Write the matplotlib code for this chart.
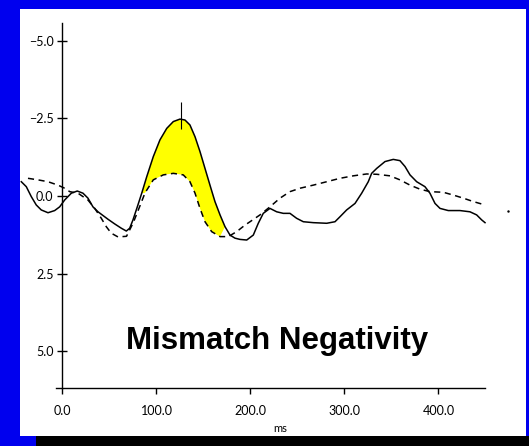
import matplotlib
matplotlib.use('Agg')
import matplotlib.pyplot as plt
from matplotlib.patches import Rectangle
import numpy as np

# standard (solid) waveform, ms / microvolts (negative up)
std_ms = [-43.8, -38.5, -33.2, -27.9, -22.6, -15.4, -8.3, -3.0, 2.3, 9.4, 15.7, 21.8, 27.1,
          32.4, 37.8, 48.4, 55.5, 62.6, 67.9, 71.5, 75.0, 79.6, 84.3, 89.6, 96.6, 103.7,
          110.9, 117.9, 125.0, 130.3, 135.6, 141.0, 146.3, 151.6, 156.9, 162.2, 167.6,
          172.9, 178.2, 183.5, 188.8, 196.0, 203.0, 208.3, 213.6, 220.7, 227.9, 234.9,
          242.0, 249.1, 256.2, 266.8, 281.1, 289.9, 295.2, 302.3, 311.2, 318.3, 325.3,
          328.9, 334.3, 343.1, 351.9, 359.0, 364.4, 369.7, 376.8, 385.6, 390.9, 396.3,
          401.6, 410.4, 422.9, 433.5, 440.6, 445.9, 449.5]
std_uv = [-0.46, -0.30, 0.02, 0.29, 0.45, 0.54, 0.47, 0.35, 0.13, -0.09, -0.16, -0.09, 0.07,
          0.35, 0.51, 0.75, 0.90, 1.04, 1.13, 1.04, 0.77, 0.35, -0.09, -0.62, -1.27, -1.81,
          -2.18, -2.40, -2.48, -2.45, -2.29, -1.91, -1.43, -0.89, -0.35, 0.18, 0.61,
          0.99, 1.26, 1.36, 1.40, 1.42, 1.26, 0.88, 0.56, 0.40, 0.51, 0.56,
          0.56, 0.72, 0.83, 0.86, 0.88, 0.83, 0.67, 0.45, 0.24, -0.09, -0.46,
          -0.73, -0.89, -1.11, -1.18, -1.14, -0.95, -0.68, -0.46, -0.30, -0.09, 0.24,
          0.40, 0.47, 0.47, 0.51, 0.61, 0.77, 0.86]

# deviant (dashed) waveform
dev_ms = [-36.7, -26.1, -15.4, -4.8, 2.3, 7.7, 16.5, 27.1, 34.3, 41.3, 46.6, 51.9, 59.0,
          68.1, 75.3, 82.4, 87.8, 96.6, 107.2, 117.9, 128.5, 135.6, 141.0, 146.3, 151.6,
          158.7, 167.6, 176.4, 185.3, 194.1, 199.5, 210.1, 220.7, 231.4, 242.0, 252.7,
          266.8, 281.1, 295.2, 309.4, 323.6, 334.3, 348.4, 359.0, 369.7, 380.3, 390.9,
          405.1, 415.7, 426.4, 437.0, 449.5]
dev_uv = [-0.57, -0.52, -0.46, -0.35, -0.25, -0.14, -0.09, 0.13, 0.40, 0.72, 0.99, 1.20, 1.32,
          1.30, 0.86, 0.32, -0.10, -0.52, -0.68, -0.73, -0.68, -0.46, -0.09, 0.40, 0.83,
          1.15, 1.31, 1.31, 1.15, 0.94, 0.83, 0.61, 0.35, 0.07, -0.14, -0.25,
          -0.35, -0.46, -0.57, -0.65, -0.71, -0.70, -0.65, -0.52, -0.35, -0.22, -0.14,
          -0.12, -0.03, 0.07, 0.18, 0.29]

mmn_window = (84, 173)
peak_ms = 126
peak_bar = (-3.03, -2.16)
stray_dot = (474, 0.48)

yticks = [-5, -2.5, 0, 2.5, 5]
ytick_labels = ['\u22125.0', '\u22122.5', '0.0', '2.5', '5.0']
xticks = [0, 100, 200, 300, 400]
xtick_labels = ['0.0', '100.0', '200.0', '300.0', '400.0']

W, H = 529, 446
fig = plt.figure(figsize=(W / 100, H / 100), dpi=100, facecolor='#0000EE')
plt.rcParams['font.family'] = ['Lato', 'DejaVu Sans']

# black strip at the bottom
fig.patches.append(Rectangle((36 / W, 0), 1 - 36 / W, 10.5 / H, transform=fig.transFigure,
                             facecolor='black', edgecolor='none'))

ax = fig.add_axes([20 / W, 1 - 436 / H, (526 - 20) / W, (436 - 9) / H])
ax.set_facecolor('white')
ax.set_xlim(-45.2, 493.1)
ax.set_ylim(7.74, -6.03)

std_ms_a, std_uv_a = np.array(std_ms), np.array(std_uv)
dev_ms_a, dev_uv_a = np.array(dev_ms), np.array(dev_uv)
m1 = (std_ms_a >= mmn_window[0]) & (std_ms_a <= mmn_window[1])
m2 = (dev_ms_a >= mmn_window[0]) & (dev_ms_a <= mmn_window[1])
poly_x = np.concatenate([std_ms_a[m1], dev_ms_a[m2][::-1]])
poly_y = np.concatenate([std_uv_a[m1], dev_uv_a[m2][::-1]])
ax.fill(poly_x, poly_y, color='#FFFF00', lw=0, zorder=1)

ax.plot(std_ms, std_uv, color='black', lw=1.1, zorder=3)
ax.plot(dev_ms, dev_uv, color='black', lw=1.1, ls=(0, (4, 3)), zorder=3)
ax.vlines(peak_ms, peak_bar[0], peak_bar[1], color='black', lw=0.8, zorder=4)
ax.plot(*stray_dot, 'k.', ms=1.5)

for s in ['top', 'right']:
    ax.spines[s].set_visible(False)
ax.spines['left'].set_position(('data', 0))
ax.spines['left'].set_bounds(-5.58, 6.19)
ax.spines['bottom'].set_position(('data', 6.19))
ax.spines['bottom'].set_bounds(-7, 449)
ax.spines['left'].set_linewidth(1.0)
ax.spines['bottom'].set_linewidth(1.0)

ax.set_yticks(yticks)
ax.set_yticklabels(ytick_labels)
ax.set_xticks(xticks)
ax.set_xticklabels(xtick_labels)
ax.tick_params(axis='y', direction='inout', length=7, width=1.0, pad=3, labelsize=9)
ax.tick_params(axis='x', direction='out', length=4, width=1.0, pad=8, labelsize=9)

fig.text(280 / W, 1 - 429 / H, 'ms', ha='center', va='center', fontsize=8)
fig.text(277 / W, 1 - 349 / H, 'Mismatch Negativity', ha='center', va='baseline',
         fontsize=22.5, fontweight='bold', family=['Liberation Sans', 'DejaVu Sans'])

fig.savefig('out.png', dpi=100, facecolor=fig.get_facecolor())
